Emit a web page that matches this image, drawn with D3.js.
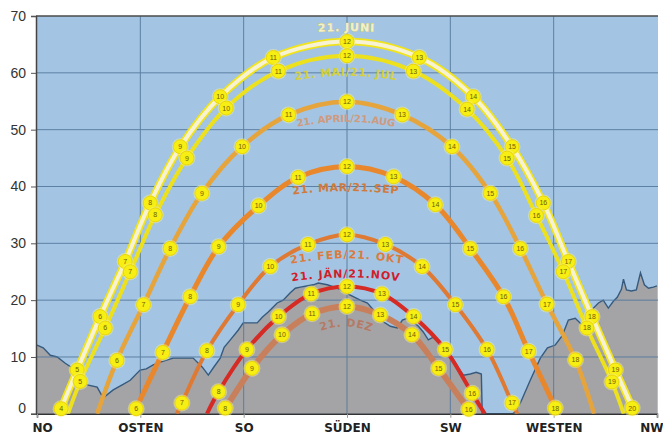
<!DOCTYPE html>
<html>
<head>
<meta charset="utf-8">
<script src="https://cdn.jsdelivr.net/npm/d3@7"></script>
<style>
  body { margin: 0; background: #ffffff; }
  svg { display: block; }
</style>
</head>
<body>
<svg id="chart" width="663" height="436"></svg>
<script>
// Compass directions along the azimuth axis
const dirTicks = [45, 90, 135, 180, 225, 270, 315];
const dirLabels = ["NO", "OSTEN", "SO", "SÜDEN", "SW", "WESTEN", "NW"];
const elevTicks = [0, 10, 20, 30, 40, 50, 60, 70];

// Terrain horizon (azimuth in degrees, elevation in degrees)
const horizonAz = [45, 47.7, 50.8, 53.8, 57.3, 59.9, 62.5, 66.9, 71.2, 73.8, 78.2, 82.1, 85.6, 89.9, 92.6, 95.6, 98.7, 104.3, 109.6, 113.0, 117.0, 119.6, 121.8, 124.8, 126.5, 129.2, 132.6, 134.8, 140.9, 143.1, 145.7, 149.6, 152.2, 155.3, 157.5, 159.7, 165.3, 167.5, 171.4, 175.8, 181.4, 185.8, 188.9, 192.3, 195.8, 198.9, 201.9, 204.1, 206.3, 208.4, 211.1, 213.2, 215.4, 217.6, 219.8, 222.8, 225.9, 228.5, 230.7, 233.7, 236.3, 238.5, 238.9, 252.0, 253.3, 255.5, 259.8, 264.2, 267.3, 270.7, 273.8, 276.4, 279.4, 282.5, 285.1, 287.3, 289.5, 291.6, 293.8, 296.0, 297.7, 299.5, 300.4, 301.7, 303.8, 306.0, 307.8, 309.5, 311.3, 313.4, 315];
const horizonEl = [12.1, 11.6, 10.3, 10.0, 8.9, 8.2, 6.3, 5.1, 4.7, 2.8, 4.2, 5.1, 5.9, 7.7, 7.9, 8.6, 9.1, 9.8, 9.8, 9.8, 8.2, 6.8, 8.1, 9.8, 11.7, 13.0, 14.7, 16.0, 16.0, 17.0, 17.9, 19.5, 20.0, 21.3, 22.1, 22.3, 22.7, 23.0, 22.7, 22.1, 20.9, 20.0, 19.5, 17.9, 16.2, 15.4, 15.1, 16.5, 16.8, 16.3, 15.4, 14.4, 13.0, 13.5, 12.6, 11.4, 9.8, 8.0, 6.8, 7.0, 7.3, 7.0, 0, 0, 0.3, 1.9, 5.9, 9.8, 11.6, 12.1, 13.8, 16.5, 16.8, 15.6, 17.2, 18.6, 19.5, 20.0, 18.6, 19.8, 20.5, 21.9, 23.7, 21.8, 21.6, 21.8, 24.8, 22.7, 22.1, 22.3, 22.5];

// Sun paths: azimuth, elevation and clock hour of each point (null = path end, no marker)
const juneAz   = [54.8, 55.5, 62.5, 72.5, 83.4, 94.3, 107.4, 124.8, 147.9, 180, 211.5, 235.0, 251.9, 265.5, 276.4, 286.7, 296.9, 304.2, 304.8];
const juneEl   = [0, 0.9, 7.7, 17.1, 26.8, 37.1, 47.0, 55.8, 62.7, 65.5, 62.7, 55.8, 47.0, 37.1, 26.8, 17.1, 7.7, 1.0, 0];
const juneHour = [null, 4, 5, 6, 7, 8, 9, 10, 11, 12, 13, 14, 15, 16, 17, 18, 19, 20, null];

const mayAz   = [58.5, 63.8, 74.7, 85.6, 96.5, 110.3, 127.4, 150.1, 180, 208.9, 232.3, 249.7, 262.5, 274.2, 284.5, 295.4, 300.5];
const mayEl   = [0, 5.7, 15.1, 25.0, 35.0, 45.0, 53.8, 60.3, 63.0, 60.3, 53.6, 45.0, 34.9, 25.0, 15.1, 5.6, 0];
const mayHour = [null, 5, 6, 7, 8, 9, 10, 11, 12, 13, 14, 15, 16, 17, 18, 19, null];

const aprAz   = [71.2, 79.8, 91.4, 103.0, 116.8, 134.3, 154.6, 180, 204.0, 225.7, 242.4, 255.5, 267.1, 279.5, 287.6];
const aprEl   = [0, 9.4, 19.2, 29.1, 38.8, 47.0, 52.6, 54.9, 52.6, 47.0, 38.8, 29.1, 19.3, 9.5, 0];
const aprHour = [null, 6, 7, 8, 9, 10, 11, 12, 13, 14, 15, 16, 17, 18, null];

const marAz   = [87.3, 88.2, 99.8, 111.7, 124.1, 141.5, 158.7, 180, 200.3, 218.5, 233.7, 248.2, 259.1, 270.7, 271.5];
const marEl   = [0, 0.9, 10.8, 20.6, 29.4, 36.6, 41.6, 43.5, 41.7, 36.8, 29.1, 20.6, 11.0, 1.0, 0];
const marHour = [null, 6, 7, 8, 9, 10, 11, 12, 13, 14, 15, 16, 17, 18, null];

const febAz   = [105.9, 108.1, 119.0, 132.6, 146.6, 163.0, 180, 196.7, 212.7, 227.2, 241.0, 251.9, 254.2];
const febEl   = [0, 1.9, 11.1, 19.2, 25.9, 29.8, 31.5, 29.8, 25.9, 19.2, 11.3, 1.9, 0];
const febHour = [null, 7, 8, 9, 10, 11, 12, 13, 14, 15, 16, 17, null];

const janAz   = [119.0, 124.1, 136.4, 150.2, 164.4, 180, 195.2, 209.0, 222.8, 234.5, 240.0];
const janEl   = [0, 3.9, 11.3, 17.1, 21.1, 22.4, 21.1, 17.1, 11.3, 3.6, 0];
const janHour = [null, 8, 9, 10, 11, 12, 13, 14, 15, 16, null];

const decAz   = [125.0, 127.0, 138.6, 151.7, 164.8, 180, 194.5, 208.3, 219.9, 233.0, 235.0];
const decEl   = [0, 1.0, 8.0, 13.9, 17.6, 18.9, 17.4, 13.9, 8.0, 0.8, 0];
const decHour = [null, 8, 9, 10, 11, 12, 13, 14, 15, 16, null];

const pathNames = ["21. JUNI", "21. MAI/21. JUL", "21. APRIL/21.AUG", "21. MAR/21.SEP", "21. FEB/21. OKT", "21. JÄN/21.NOV", "21. DEZ"];

// Drawing styles per path: line colour and width, label colour,
// label offset from the path apex and how strongly the label follows the path's bend
const styles = [
  { stroke: "#f1e31c", width: 7.5, inner: "#f7f3d2", innerWidth: 4, text: "#f4f0c8", textStroke: "#d8cc48", dy: -14.5, bend: 0.3, size: 11, ls: 1 },
  { stroke: "#ece11c", width: 4, text: "#d6cf3c", dy: 16, bend: 0.5, size: 11, ls: 0.6 },
  { stroke: "#e6a43c", width: 4.5, text: "#cf9a80", dy: 16, bend: 0.5, size: 10, ls: 0 },
  { stroke: "#e8872c", width: 5, text: "#cf7a3c", dy: 20.5, bend: 0.25, size: 11, ls: 0.6 },
  { stroke: "#df7a34", width: 4, text: "#dc7a3c", dy: 19.5, bend: 0.3, size: 11, ls: 1 },
  { stroke: "#d62a24", width: 4, text: "#d01e2c", dy: -13, bend: 0.2, size: 11, ls: 1 },
  { stroke: "#c8805c", width: 6, text: "#b47a66", dy: 16, bend: 1, size: 11, ls: 1 }
];

const paths = [
  [juneAz, juneEl, juneHour],
  [mayAz, mayEl, mayHour],
  [aprAz, aprEl, aprHour],
  [marAz, marEl, marHour],
  [febAz, febEl, febHour],
  [janAz, janEl, janHour],
  [decAz, decEl, decHour]
].map(([az, el, hr], i) => ({
  name: pathNames[i],
  style: styles[i],
  points: az.map((a, k) => ({ az: a, el: el[k], hour: hr[k] }))
}));

const svg = d3.select("#chart");
const x = d3.scaleLinear().domain([45, 315]).range([37, 657]);
const y = d3.scaleLinear().domain([0, 70]).range([413.8, 16]);
const plotRight = 658;

// Sky
svg.append("rect")
  .attr("x", x(45) - 1).attr("y", y(70))
  .attr("width", plotRight - (x(45) - 1)).attr("height", y(0) - y(70))
  .attr("fill", "#a3c5e3");

// Terrain
const horizon = horizonAz.map((a, i) => ({ az: a, el: horizonEl[i] }));
svg.append("path")
  .datum(horizon)
  .attr("fill", "#a4a4a6")
  .attr("d", d3.area().x(d => x(d.az)).y0(y(0)).y1(d => y(d.el)));
svg.append("path")
  .datum(horizon)
  .attr("fill", "none")
  .attr("stroke", "#365a7e")
  .attr("stroke-width", 1.4)
  .attr("d", d3.line().x(d => x(d.az)).y(d => y(d.el)));

// Grid
const grid = svg.append("g").attr("stroke", "#56799d").attr("stroke-width", 1).attr("opacity", 0.9);
grid.selectAll("line.h").data(elevTicks.filter(v => v > 0 && v < 70)).join("line")
  .attr("x1", x(45) - 1).attr("x2", plotRight)
  .attr("y1", d => y(d)).attr("y2", d => y(d));
grid.selectAll("line.v").data(dirTicks.filter(v => v > 45 && v < 315)).join("line")
  .attr("x1", d => x(d)).attr("x2", d => x(d))
  .attr("y1", y(70)).attr("y2", y(0));

// Frame: top edge
svg.append("line")
  .attr("x1", x(45) - 1).attr("x2", plotRight)
  .attr("y1", y(70)).attr("y2", y(70))
  .attr("stroke", "#4a4a4a").attr("stroke-width", 1.5);

// Elevation axis
const yAxis = svg.append("g")
  .attr("transform", `translate(${x(45) - 1},0)`)
  .call(d3.axisLeft(y).tickValues(elevTicks).tickSize(5).tickPadding(5));
yAxis.select(".domain").attr("stroke", "#444").attr("stroke-width", 1.5);
yAxis.selectAll(".tick line").attr("stroke", "#555");
yAxis.selectAll(".tick text")
  .attr("font-family", "Liberation Sans, Arial, sans-serif")
  .attr("font-size", 14)
  .attr("fill", "#333");
yAxis.selectAll(".tick").filter(d => d === 0).select("text").attr("dy", "-0.12em");

// Azimuth axis
const xAxis = svg.append("g")
  .attr("transform", `translate(0,${y(0)})`)
  .call(d3.axisBottom(x).tickValues(dirTicks).tickFormat((d, i) => dirLabels[i]).tickSize(4).tickPadding(6));
xAxis.select(".domain").attr("stroke", "#333").attr("stroke-width", 1.5);
xAxis.selectAll(".tick line").attr("stroke", "#999");
xAxis.selectAll(".tick text")
  .attr("font-family", "DejaVu Sans, Verdana, sans-serif")
  .attr("font-weight", "bold")
  .attr("font-size", 12)
  .attr("fill", "#222");
xAxis.selectAll(".tick").filter(d => d === 45).select("text").attr("text-anchor", "start").attr("x", -5);
xAxis.selectAll(".tick").filter(d => d === 315).select("text").attr("text-anchor", "end").attr("x", 6);

// Sun paths
const curve = d3.curveCatmullRom.alpha(0.5);
const lineGen = d3.line().x(d => x(d.az)).y(d => y(d.el)).curve(curve);

const clipId = "plotClip";
svg.append("clipPath").attr("id", clipId).append("rect")
  .attr("x", x(45)).attr("y", y(70)).attr("width", plotRight - x(45)).attr("height", y(0) - y(70));

const lines = svg.append("g").attr("clip-path", `url(#${clipId})`);
paths.forEach(p => {
  lines.append("path")
    .attr("d", lineGen(p.points))
    .attr("fill", "none")
    .attr("stroke", p.style.stroke)
    .attr("stroke-width", p.style.width)
    .attr("stroke-linecap", "butt");
  if (p.style.inner) {
    lines.append("path")
      .attr("d", lineGen(p.points))
      .attr("fill", "none")
      .attr("stroke", p.style.inner)
      .attr("stroke-width", p.style.innerWidth);
  }
});

// Curved date labels following each path
const defs = svg.append("defs");
const labels = svg.append("g");
paths.forEach((p, i) => {
  const off = p.style.dy;
  const bend = p.style.bend;
  const apex = y(d3.max(p.points, d => d.el));
  const labelLine = d3.line()
    .x(d => x(d.az))
    .y(d => apex + (y(d.el) - apex) * bend + off)
    .curve(curve);
  defs.append("path").attr("id", "lbl" + i).attr("d", labelLine(p.points));
  const t = labels.append("text")
    .attr("font-family", "DejaVu Sans, Verdana, sans-serif")
    .attr("font-weight", "bold")
    .attr("font-size", p.style.size)
    .attr("letter-spacing", p.style.ls)
    .attr("fill", p.style.text)
    .attr("dominant-baseline", "central");
  if (p.style.textStroke) {
    t.attr("stroke", p.style.textStroke).attr("stroke-width", 0.6).attr("paint-order", "stroke");
  }
  t.append("textPath")
    .attr("href", "#lbl" + i)
    .attr("startOffset", "50%")
    .attr("text-anchor", "middle")
    .text(p.name);
});

// Hour markers
const markers = svg.append("g");
paths.forEach(p => {
  const pts = p.points.filter(d => d.hour !== null);
  const g = markers.selectAll(null).data(pts).join("g")
    .attr("transform", d => `translate(${x(d.az)},${y(d.el)})`);
  g.append("circle").attr("r", 8.5).attr("fill", "#f8f4a0").attr("opacity", 0.45);
  g.append("circle").attr("r", 7)
    .attr("fill", "#f7ee14")
    .attr("stroke", "#e9d60a")
    .attr("stroke-width", 1);
  g.append("text")
    .attr("text-anchor", "middle")
    .attr("dy", "0.35em")
    .attr("font-family", "Liberation Sans, Arial, sans-serif")
    .attr("font-size", 7)
    .attr("fill", "#6e6000")
    .text(d => d.hour);
});
</script>
</body>
</html>
